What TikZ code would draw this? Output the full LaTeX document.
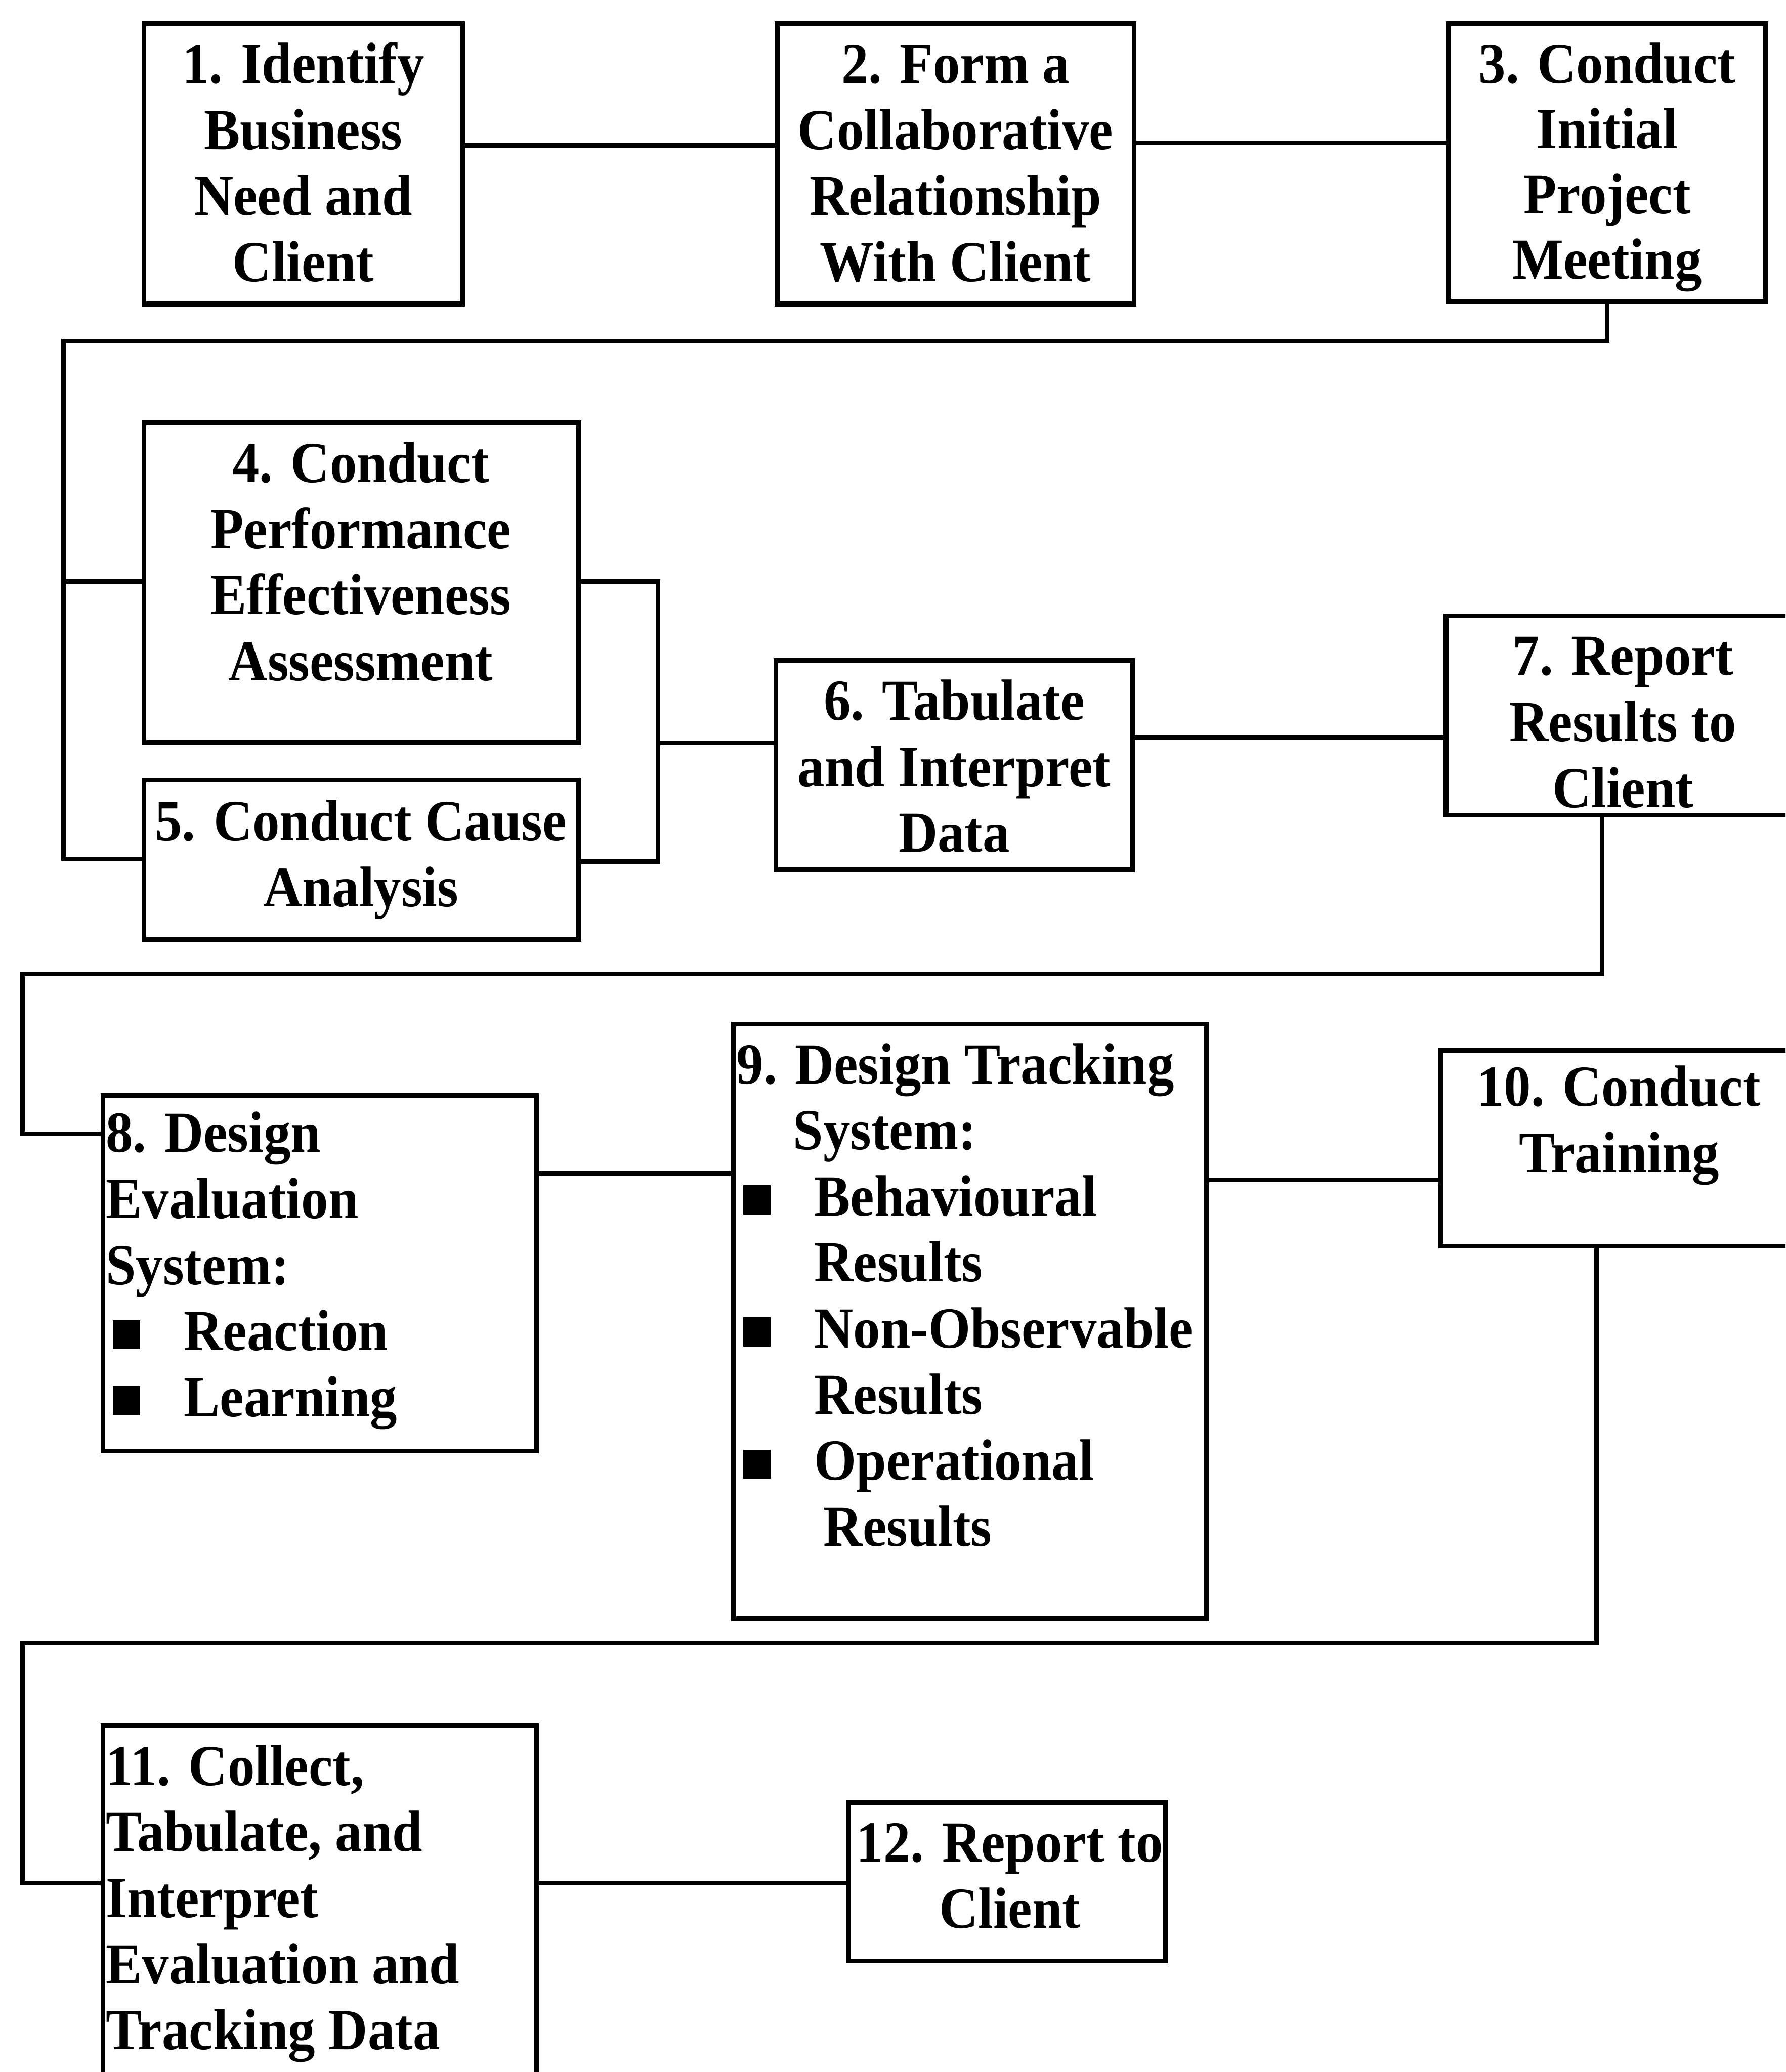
\documentclass[tikz,border=0pt]{standalone}
\usepackage{fontspec}
\newfontfamily\boxfont{Liberation Serif Bold}[FakeStretch=0.93]
\newcommand\bsq{\rule[1pt]{21pt}{22pt}}
\begin{document}
\begin{tikzpicture}[x=1pt,y=-1pt,
  box/.style={draw, line width=3.6pt, inner sep=0pt, outer sep=0pt, anchor=north west},
  lbl/.style={font={\boxfont\fontsize{44}{50}\selectfont}, inner sep=0pt, align=center, anchor=base},
  lbll/.style={font={\boxfont\fontsize{44}{50}\selectfont}, inner sep=0pt, align=left, anchor=base west},
  wire/.style={line width=3.4pt}]
\useasboundingbox (0,0) rectangle (1351,1568);
\clip (0,0) rectangle (1351,1568);
\fill[white] (0,0) rectangle (1351,1568);
% boxes
\node[box, minimum width=241pt, minimum height=212pt] (b1) at (109,18) {};
\node[box, minimum width=270pt, minimum height=212pt] (b2) at (588,18) {};
\node[box, minimum width=240pt, minimum height=210pt] (b3) at (1096,18) {};
\node[box, minimum width=329pt, minimum height=242pt] (b4) at (109,320) {};
\node[box, minimum width=329pt, minimum height=121pt] (b5) at (109,590) {};
\node[box, minimum width=270pt, minimum height=158pt] (b6) at (587,500) {};
\node[box, minimum width=275pt, minimum height=151pt] (b7) at (1094,466) {};
\node[box, minimum width=328pt, minimum height=269pt] (b8) at (78,829) {};
\node[box, minimum width=358pt, minimum height=450pt] (b9) at (555,775) {};
\node[box, minimum width=275pt, minimum height=148pt] (b10) at (1090,795) {};
\node[box, minimum width=328pt, minimum height=290pt] (b11) at (78,1306) {};
\node[box, minimum width=240pt, minimum height=120pt] (b12) at (642,1364) {};
% texts (anchor = baseline of the last line)
\node[lbl] (t1) at (229.5,213) {1. Identify\\Business\\Need and\\Client};
\node[lbl] (t2) at (723,213) {2. Form a\\Collaborative\\Relationship\\With Client};
\node[lbl, font={\boxfont\fontsize{44}{49.3}\selectfont}] (t3) at (1216,211) {3. Conduct\\Initial\\Project\\Meeting};
\node[lbl] (t4) at (273,515) {4. Conduct\\Performance\\Effectiveness\\Assessment};
\node[lbl] (t5) at (273,686) {5. Conduct Cause\\Analysis};
\node[lbl] (t6) at (722,645) {6. Tabulate\\and Interpret\\Data};
\node[lbl] (t7) at (1228,611) {7. Report\\Results to\\Client};
\node[lbll] (t8) at (80,1072) {8. Design\\Evaluation\\System:\\\hspace*{5pt}\bsq\hspace*{33pt}Reaction\\\hspace*{5pt}\bsq\hspace*{33pt}Learning};
\node[lbll] (t9) at (557,1170) {9. Design Tracking\\\hspace*{43pt}System:\\\hspace*{5pt}\bsq\hspace*{33pt}Behavioural\\\hspace*{59pt}Results\\\hspace*{5pt}\bsq\hspace*{33pt}Non-Observable\\\hspace*{59pt}Results\\\hspace*{5pt}\bsq\hspace*{33pt}Operational\\\hspace*{66pt}Results};
\node[lbl] (t10) at (1225,887) {10. Conduct\\Training};
\node[lbll] (t11) at (80,1551) {11. Collect,\\Tabulate, and\\Interpret\\Evaluation and\\Tracking Data};
\node[lbl] (t12) at (764,1459) {12. Report to\\Client};
% routing points
\coordinate (j3) at (48,258);
\coordinate (j4) at (48,440);
\coordinate (j5) at (48,650);
\coordinate (k4) at (498,440);
\coordinate (k5) at (498,652);
\coordinate (k6) at (498,562);
\coordinate (j7) at (1212,737);
\coordinate (j7b) at (17,737);
\coordinate (j8) at (17,858);
\coordinate (j10) at (1208,1243);
\coordinate (j10b) at (17,1243);
\coordinate (j11) at (17,1425);
% connectors
\draw[wire] (b1.east |- 0,110) -- (b2.west |- 0,110);
\draw[wire] (b2.east |- 0,108) -- (b3.west |- 0,108);
\draw[wire] (b3.south) |- (j3) -- (j5) -- (b5.west |- j5);
\draw[wire] (j4) -- (b4.west |- j4);
\draw[wire] (b4.east |- k4) -- (k4) -- (k5) -- (b5.east |- k5);
\draw[wire] (k6) -- (b6.west |- k6);
\draw[wire] (b6.east |- 0,558) -- (b7.west |- 0,558);
\draw[wire] (b7.south -| j7) -- (j7) -- (j7b) -- (j8) -- (b8.west |- j8);
\draw[wire] (b8.east |- 0,888) -- (b9.west |- 0,888);
\draw[wire] (b9.east |- 0,893) -- (b10.west |- 0,893);
\draw[wire] (b10.south -| j10) -- (j10) -- (j10b) -- (j11) -- (b11.west |- j11);
\draw[wire] (b11.east |- 0,1425) -- (b12.west |- 0,1425);
\end{tikzpicture}
\end{document}
